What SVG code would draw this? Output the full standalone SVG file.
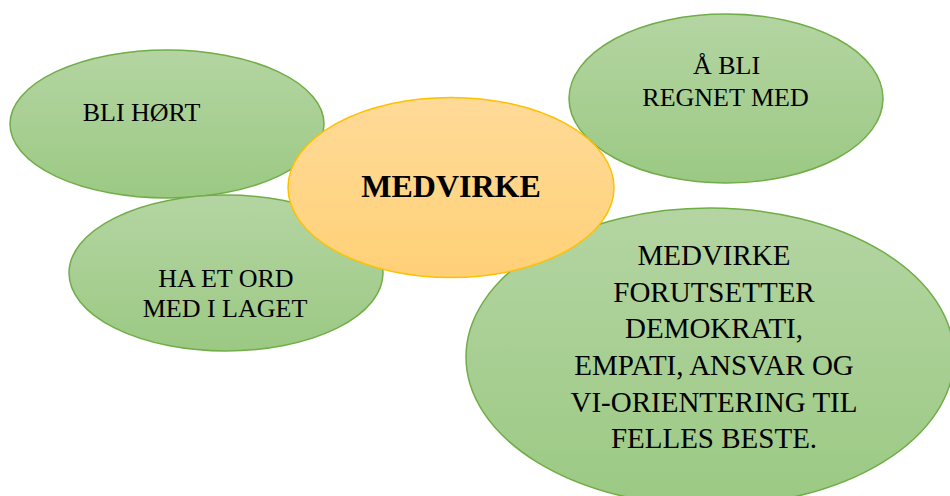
<svg xmlns="http://www.w3.org/2000/svg" width="950" height="496" viewBox="0 0 950 496">
<defs>
<linearGradient id="gG" x1="0" y1="0" x2="0" y2="1">
<stop offset="0" stop-color="#b4d5a2"/>
<stop offset="0.5" stop-color="#a8cf93"/>
<stop offset="1" stop-color="#9bc983"/>
</linearGradient>
<linearGradient id="gO" x1="0" y1="0" x2="0" y2="1">
<stop offset="0" stop-color="#ffda98"/>
<stop offset="0.5" stop-color="#ffd688"/>
<stop offset="1" stop-color="#ffd077"/>
</linearGradient>
<style>
.g{fill:url(#gG);stroke:#70ad47;stroke-width:1.5}
.o{fill:url(#gO);stroke:#ffc000;stroke-width:1.5}
text{font-family:"Liberation Serif","Times New Roman",serif;fill:#000;text-anchor:middle}
.s{font-size:26px}
.b{font-size:29px}
.c{font-size:32px;font-weight:bold}
</style>
</defs>
<rect width="950" height="496" fill="#fff"/>
<g id="node-bli-hort">
<ellipse class="g" cx="167" cy="124" rx="157" ry="74"/>
<text class="s" x="141.5" y="121">BLI HØRT</text>
</g>
<g id="node-ha-et-ord">
<ellipse class="g" cx="226" cy="273" rx="157" ry="78"/>
<text class="s" x="226" y="287">HA ET ORD</text>
<text class="s" x="225" y="317">MED I LAGET</text>
</g>
<g id="node-regnet-med">
<ellipse class="g" cx="726" cy="98.5" rx="157" ry="84.5"/>
<text class="s" x="726.5" y="74">Å BLI</text>
<text class="s" x="725.5" y="106">REGNET MED</text>
</g>
<g id="node-forutsetter">
<ellipse class="g" cx="710" cy="357" rx="244" ry="149"/>
<text class="b" x="714" y="265">MEDVIRKE</text>
<text class="b" x="714" y="301.7">FORUTSETTER</text>
<text class="b" x="714" y="338.3">DEMOKRATI,</text>
<text class="b" x="714" y="375">EMPATI, ANSVAR OG</text>
<text class="b" x="714" y="411.7">VI-ORIENTERING TIL</text>
<text class="b" x="714" y="448.3">FELLES BESTE.</text>
</g>
<g id="node-medvirke">
<ellipse class="o" cx="451" cy="187.5" rx="163" ry="90"/>
<text class="c" x="451" y="197">MEDVIRKE</text>
</g>
<g id="connectors"/>
</svg>
